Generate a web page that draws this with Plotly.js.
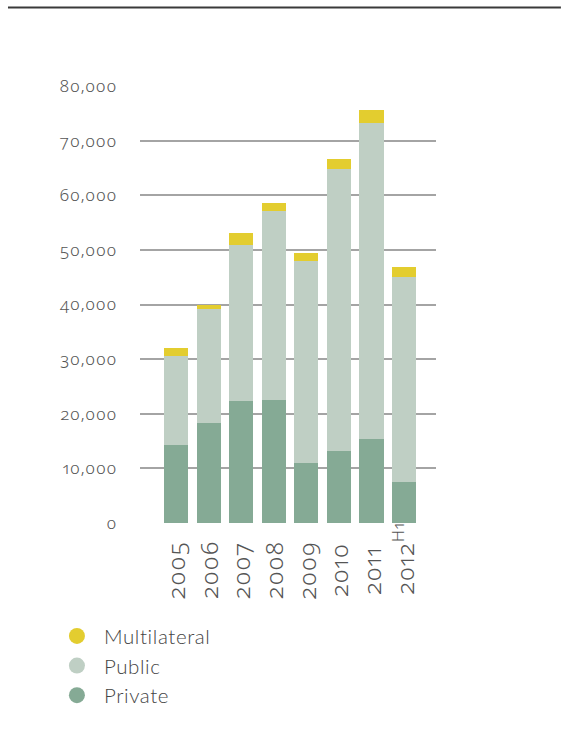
<!DOCTYPE html>
<html>
<head>
<meta charset="utf-8">
<script src="https://cdn.plot.ly/plotly-3.0.1.min.js"></script>
<style>
  html, body { margin: 0; padding: 0; background: #fff; }
  #chart { width: 561px; height: 748px; }
  .main-svg text { font-variant-numeric: oldstyle-nums proportional-nums; font-feature-settings: "onum" 1, "pnum" 1; }
  .annotation-text { letter-spacing: 1.2px; }
  .ytick text { letter-spacing: 0.8px; }
  .legendtext { letter-spacing: 0.6px; }
</style>
</head>
<body>
<div id="chart"></div>
<script>
const years = ["2005", "2006", "2007", "2008", "2009", "2010", "2011", "2012<sup>H1</sup>"];
const privateVals = [14260, 18290, 22330, 22510, 10950, 13160, 15360, 7470];
const publicVals = [16380, 20920, 28500, 34680, 37070, 51610, 57850, 37610];
const multilateralVals = [1410, 790, 2330, 1450, 1470, 1780, 2330, 1840];
const yTicks = [0, 10000, 20000, 30000, 40000, 50000, 60000, 70000, 80000];
const yTickLabels = ["0", "10,000", "20,000", "30,000", "40,000", "50,000", "60,000", "70,000", "80,000"];

const colors = { multilateral: "#e3cd2f", publicC: "#bfcfc4", privateC: "#85aa95" };
const numFam = "'Noto Sans', sans-serif";
const legFam = "Lato, 'Noto Sans', sans-serif";

const idx = years.map((_, i) => i);

const traces = [
  { type: "bar", name: "Private", x: idx, y: privateVals, marker: { color: colors.privateC }, showlegend: false, hoverinfo: "skip" },
  { type: "bar", name: "Public", x: idx, y: publicVals, marker: { color: colors.publicC }, showlegend: false, hoverinfo: "skip" },
  { type: "bar", name: "Multilateral", x: idx, y: multilateralVals, marker: { color: colors.multilateral }, showlegend: false, hoverinfo: "skip" },
  { type: "scatter", mode: "markers", name: "Multilateral", x: [null], y: [null], marker: { color: colors.multilateral, size: 16, symbol: "circle" } },
  { type: "scatter", mode: "markers", name: "Public", x: [null], y: [null], marker: { color: colors.publicC, size: 16, symbol: "circle" } },
  { type: "scatter", mode: "markers", name: "Private", x: [null], y: [null], marker: { color: colors.privateC, size: 16, symbol: "circle" } }
];

// category labels (rotated, bottom-aligned like the reference)
const xLabelAnnotations = years.map((label, i) => ({
  xref: "x", yref: "paper",
  x: idx[i], y: -0.178,
  xanchor: "center", yanchor: "bottom",
  text: label, textangle: -90, showarrow: false,
  font: { size: 24, color: "#555", family: numFam, weight: 300 },
  borderpad: 0
}));

const layout = {
  width: 561, height: 748,
  margin: { l: 140, r: 125, t: 86, b: 225 },
  paper_bgcolor: "#fff", plot_bgcolor: "#fff",
  barmode: "stack",
  bargap: 0.263,
  font: { family: numFam, color: "#555" },
  xaxis: {
    range: [-1.105, 7.98],
    tickmode: "array", tickvals: idx, ticktext: years,
    showticklabels: false,
    showgrid: false, zeroline: false, showline: false, ticks: "",
    fixedrange: true
  },
  yaxis: {
    range: [0, 80000],
    tickmode: "array", tickvals: yTicks, ticktext: yTickLabels,
    tickfont: { size: 17, color: "#555", family: numFam, weight: 300 },
    showgrid: true, gridcolor: "#a4a4a4", gridwidth: 2,
    zeroline: false, showline: false, ticks: "",
    ticklabelstandoff: 22,
    fixedrange: true
  },
  showlegend: true,
  legend: {
    orientation: "v",
    x: -0.3043, xanchor: "left",
    y: -0.213, yanchor: "top",
    itemwidth: 44,
    font: { size: 20.5, color: "#444", family: legFam, weight: 300 },
    bgcolor: "rgba(0,0,0,0)",
    traceorder: "normal",
    itemclick: false, itemdoubleclick: false
  },
  annotations: xLabelAnnotations,
  shapes: [
    { type: "line", xref: "paper", yref: "paper", x0: -0.446, x1: 1.422, y0: 1.1796, y1: 1.1796,
      line: { color: "#3a3a3a", width: 2 } }
  ]
};

Plotly.newPlot("chart", traces, layout, { staticPlot: true, displayModeBar: false });
</script>
</body>
</html>
